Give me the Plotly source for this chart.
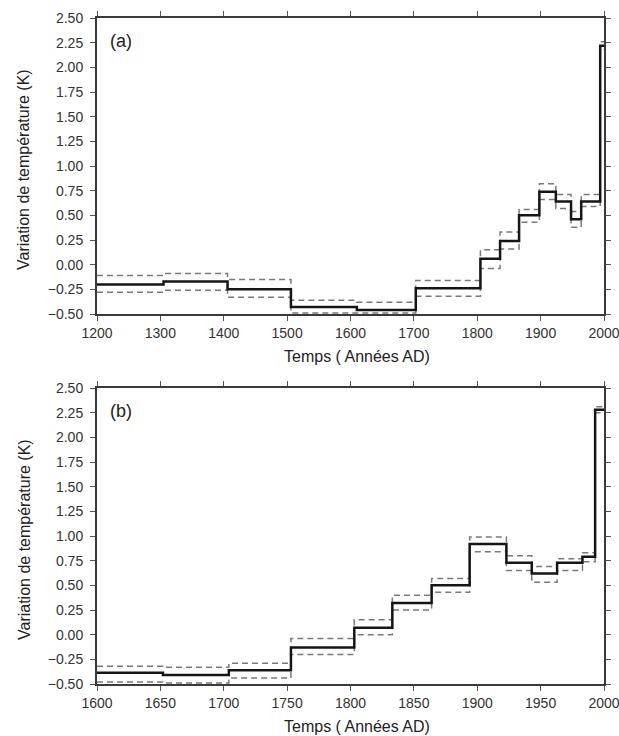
import plotly.graph_objects as go

# ---------------- data ----------------
# Panel (a): 1200-2000 AD
edges_a = [1200, 1305, 1406, 1506, 1610, 1703, 1805, 1836, 1866, 1898, 1924, 1948, 1964, 1994, 2000]
mean_a = [-0.20, -0.17, -0.25, -0.43, -0.46, -0.24, 0.06, 0.24, 0.50, 0.74, 0.64, 0.46, 0.64, 2.22]
upper_a = [-0.11, -0.09, -0.15, -0.36, -0.38, -0.16, 0.15, 0.33, 0.56, 0.82, 0.71, 0.54, 0.71, 2.26]
lower_a = [-0.28, -0.26, -0.33, -0.49, -0.49, -0.32, -0.04, 0.16, 0.43, 0.66, 0.57, 0.38, 0.59, 2.18]

# Panel (b): 1600-2000 AD
edges_b = [1600, 1652, 1704, 1753, 1803, 1833, 1864, 1894, 1923, 1943, 1963, 1983, 1993, 2000]
mean_b = [-0.385, -0.41, -0.36, -0.13, 0.07, 0.32, 0.50, 0.92, 0.73, 0.62, 0.73, 0.79, 2.28]
upper_b = [-0.32, -0.33, -0.29, -0.04, 0.15, 0.40, 0.57, 0.99, 0.80, 0.69, 0.77, 0.83, 2.31]
lower_b = [-0.48, -0.49, -0.44, -0.20, 0.00, 0.25, 0.43, 0.84, 0.65, 0.53, 0.65, 0.74, 2.25]

yticks = [-0.50, -0.25, 0.00, 0.25, 0.50, 0.75, 1.00, 1.25, 1.50, 1.75, 2.00, 2.25, 2.50]
xticks_a = [1200, 1300, 1400, 1500, 1600, 1700, 1800, 1900, 2000]
xticks_b = [1600, 1650, 1700, 1750, 1800, 1850, 1900, 1950, 2000]

y_title = "Variation de température (K)"
x_title = "Temps ( Années AD)"
panel_labels = ["(a)", "(b)"]

# ---------------- figure ----------------
W, H = 619, 736
FONT = "Liberation Sans, Arial, sans-serif"

fig = go.Figure()

def add_panel(edges, mean, upper, lower, xa, ya):
    for vals, color, width, dash in [(upper, "#7a7a7a", 1.5, "6px,4px"),
                                     (lower, "#7a7a7a", 1.5, "6px,4px"),
                                     (mean, "#151515", 2.5, "solid")]:
        fig.add_trace(go.Scatter(
            x=edges, y=list(vals) + [vals[-1]], mode="lines",
            line=dict(shape="hv", color=color, width=width, dash=dash),
            xaxis=xa, yaxis=ya, showlegend=False, hoverinfo="skip"))

add_panel(edges_a, mean_a, upper_a, lower_a, "x", "y")
add_panel(edges_b, mean_b, upper_b, lower_b, "x2", "y2")

xdom = [97 / W, 604 / W]
dom_a = [(H - 314) / H, (H - 18) / H]
dom_b = [(H - 684) / H, (H - 388) / H]

common_axis = dict(showline=True, linecolor="#3a3a3a", linewidth=2, mirror="ticks",
                   ticks="outside", ticklen=5, tickcolor="#555", tickwidth=1,
                   showgrid=False, zeroline=False, automargin=False,
                   ticklabeloverflow="allow",
                   tickfont=dict(family=FONT, size=14, color="#333"))

fig.update_layout(
    width=W, height=H, margin=dict(l=0, r=0, t=0, b=0),
    paper_bgcolor="white", plot_bgcolor="white",
    xaxis=dict(domain=xdom, anchor="y", range=[1200, 2000], tickvals=xticks_a, **common_axis),
    yaxis=dict(domain=dom_a, anchor="x", range=[-0.5, 2.5], tickvals=yticks, tickformat=".2f",
               ticklabelstandoff=4, **common_axis),
    xaxis2=dict(domain=xdom, anchor="y2", range=[1600, 2000], tickvals=xticks_b, **common_axis),
    yaxis2=dict(domain=dom_b, anchor="x2", range=[-0.5, 2.5], tickvals=yticks, tickformat=".2f",
                ticklabelstandoff=4, **common_axis),
)

ann = []
for ytop, ybot, lab in [(18, 314, panel_labels[0]), (388, 684, panel_labels[1])]:
    ymid = (ytop + ybot) / 2
    ann.append(dict(text=y_title, x=24 / W, y=(H - ymid - 4) / H, xref="paper", yref="paper",
                    textangle=-90, showarrow=False, xanchor="center", yanchor="middle",
                    font=dict(family=FONT, size=16, color="#222")))
    ann.append(dict(text=x_title, x=357 / W, y=(H - (ybot + 42)) / H, xref="paper", yref="paper",
                    showarrow=False, xanchor="center", yanchor="middle",
                    font=dict(family=FONT, size=16, color="#222")))
    ann.append(dict(text=lab, x=108 / W, y=(H - (ytop + 23)) / H, xref="paper", yref="paper",
                    showarrow=False, xanchor="left", yanchor="middle",
                    font=dict(family=FONT, size=18, color="#222")))
fig.update_layout(annotations=ann)

fig.write_html("out.html")
